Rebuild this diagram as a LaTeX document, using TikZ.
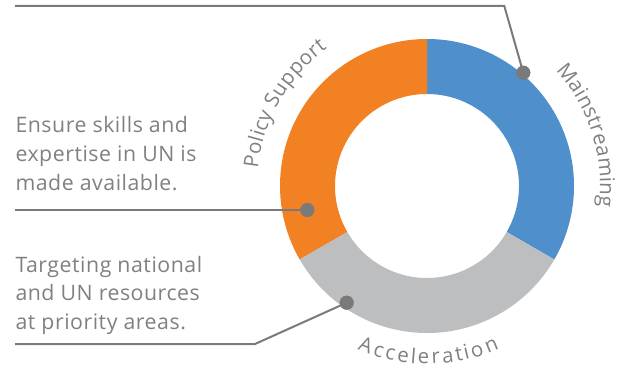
\documentclass[tikz,border=0pt]{standalone}
\usepackage{fontspec}
\setmainfont{Open Sans}
\newfontfamily\bodyfont[LetterSpace=2.5]{Open Sans}
\usetikzlibrary{decorations.text}
\definecolor{orng}{HTML}{F28123}
\definecolor{blu}{HTML}{4E8FCC}
\definecolor{ringgray}{HTML}{BDBEC0}
\definecolor{txtgray}{HTML}{808080}
\definecolor{linegray}{HTML}{7A7A7A}
\tikzset{
  leader/.style={draw=linegray, line width=2pt},
  dotnode/.style={circle, fill=linegray, minimum size=14pt, inner sep=0pt},
  bodytext/.style={font=\bodyfont\fontsize{21.3}{28.5}\selectfont, text=txtgray, align=left, anchor=base west, inner sep=0pt},
  arclabel/.style={decorate, decoration={text effects along path, text={#1},
     text effects/.cd, text along path, fit text to path,
     characters={text=txtgray, font=\fontsize{20.5}{24}\selectfont}}}
}
\begin{document}
\begin{tikzpicture}[x=1pt,y=1pt]
\useasboundingbox (0,0) rectangle (617,375);
\coordinate (C) at (427,189);
\def\Ro{147}\def\Ri{92}
% ring segments
\fill[blu] ([shift={(90:\Ro)}]C) arc[start angle=90,end angle=-30,radius=\Ro]
  -- ([shift={(-30:\Ri)}]C) arc[start angle=-30,end angle=90,radius=\Ri] -- cycle;
\fill[orng] ([shift={(90:\Ro)}]C) arc[start angle=90,end angle=210,radius=\Ro]
  -- ([shift={(210:\Ri)}]C) arc[start angle=210,end angle=90,radius=\Ri] -- cycle;
\fill[ringgray] ([shift={(210:\Ro)}]C) arc[start angle=210,end angle=330,radius=\Ro]
  -- ([shift={(330:\Ri)}]C) arc[start angle=330,end angle=210,radius=\Ri] -- cycle;
% curved labels
\path[arclabel={Policy Support}] ([shift={(174:170)}]C) arc[start angle=174,end angle=126,radius=170];
\path[arclabel={Mainstreaming}] ([shift={(42:173)}]C) arc[start angle=42,end angle=-7,radius=173];
\path[arclabel={Acceleration}] ([shift={(247:178)}]C) arc[start angle=247,end angle=294,radius=178];
% texts
\node[bodytext] (ensure) at (15.3,185) {Ensure skills and\\expertise in UN is\\made available.};
\node[bodytext] (target) at (15.3,45.7) {Targeting national\\and UN resources\\at priority areas.};
% leader lines
\node[dotnode] (dmain) at (523.3,302.3) {};
\node[dotnode] (dpol) at (307.3,165) {};
\node[dotnode] (dacc) at (346.7,72.3) {};
\coordinate (lmain) at (15,369);
\coordinate (kmain) at (504.3,369);
\coordinate (lpol) at (15,165);
\coordinate (lacc) at (15,31);
\coordinate (kacc) at (255,31);
\draw[leader] (lmain) -- (kmain) -- (dmain.center);
\draw[leader] (lpol) -- (dpol.center);
\draw[leader] (lacc) -- (kacc) -- (dacc.center);
\node[dotnode] at (dmain) {};
\node[dotnode] at (dpol) {};
\node[dotnode] at (dacc) {};
\end{tikzpicture}
\end{document}
